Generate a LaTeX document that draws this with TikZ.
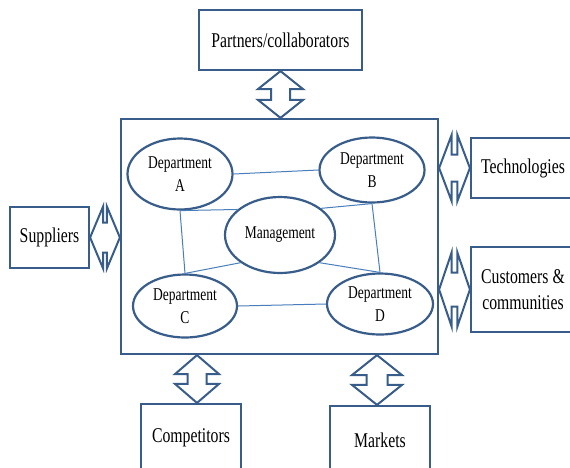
\documentclass[tikz,border=0pt]{standalone}
\usepackage{fontspec}
\setmainfont{Liberation Serif}[FakeStretch=0.75]
\usetikzlibrary{calc,shapes.geometric}

\definecolor{boxblue}{HTML}{385D8A}
\definecolor{linkblue}{HTML}{4A7EBB}

% block double arrow between two points: #3 head length, #4 head half width, #5 shaft half width
\newcommand{\dblarrow}[5]{%
  \draw[blockarrow] let \p1 = (#1), \p2 = (#2),
      \n1 = {veclen(\x2-\x1,\y2-\y1)}, \n2 = {atan2(\y2-\y1,\x2-\x1)} in
    [shift={(\p1)}, rotate=\n2]
    (0pt,0pt) -- (#3pt,#4pt) -- (#3pt,#5pt) -- ({\n1-#3pt},#5pt) -- ({\n1-#3pt},#4pt)
    -- (\n1,0pt) -- ({\n1-#3pt},-#4pt) -- ({\n1-#3pt},-#5pt) -- (#3pt,-#5pt) -- (#3pt,-#4pt) -- cycle;}

\begin{document}
\begin{tikzpicture}[x=1pt, y=-1pt,
    box/.style={draw=boxblue, line width=2.2pt, fill=white, inner sep=0pt,
      align=center, font=\fontsize{21}{26}\selectfont},
    dept/.style={ellipse, draw=boxblue, line width=2.2pt, inner sep=0pt,
      align=center, font=\fontsize{18}{23}\selectfont},
    link/.style={draw=linkblue, line width=1pt},
    blockarrow/.style={draw=boxblue, line width=2pt, fill=white, line join=miter}]

    \useasboundingbox (0,0) rectangle (570,467);

    % the organisation
    \node[box, minimum width=317, minimum height=235] (org) at (279.5, 236.5) {};

    \node[dept, minimum width=105, minimum height=71] (deptA) at (180, 174) {Department\\A};
    \node[dept, minimum width=105, minimum height=65] (deptB) at (372, 170) {Department\\B};
    \node[dept, minimum width=110, minimum height=76] (mgmt) at (280, 235) {Management};
    \node[dept, minimum width=104, minimum height=63] (deptC) at (185, 306) {Department\\C};
    \node[dept, minimum width=106, minimum height=61] (deptD) at (380, 304) {Department\\D};

    \draw[link] (deptA.east) -- (deptB.west);   % A - B
    \draw[link] (deptA.south) -- (deptC.north); % A - C
    \draw[link] (deptB.south) -- (deptD.north); % B - D
    \draw[link] (deptC.east) -- (deptD.west);   % C - D
    \draw[link] (deptA.south) -- (mgmt.149);
    \draw[link] (deptB.south) -- (mgmt.33);
    \draw[link] (deptC.north) -- (mgmt.215);
    \draw[link] (deptD.north) -- (mgmt.325);

    % surroundings
    \node[box, minimum width=163, minimum height=60] (partners) at (280.5, 40) {Partners/collaborators};
    \node[box, minimum width=79, minimum height=61] (suppliers) at (49.5, 237.5) {Suppliers};
    \node[box, minimum width=104, minimum height=60] (technologies) at (523, 168) {Technologies};
    \node[box, minimum width=104, minimum height=85] (customers) at (523, 289.5) {Customers \&\\communities};
    \node[box, minimum width=100, minimum height=68] (competitors) at (191, 438) {Competitors};
    \node[box, minimum width=100, minimum height=68] (markets) at (380, 440) {Markets};

    \dblarrow{partners.south}{partners.south |- org.north}{18}{22.5}{9.5}
    \dblarrow{suppliers.east}{suppliers.east -| org.west}{13}{31}{15}
    \dblarrow{technologies.west -| org.east}{technologies.west}{12.5}{33}{13.5}
    \dblarrow{customers.west -| org.east}{customers.west}{12.5}{37}{17}
    \dblarrow{[xshift=6pt]competitors.north |- org.south}{[xshift=6pt]competitors.north}{19}{22}{9.5}
    \dblarrow{[xshift=-3pt]markets.north |- org.south}{[xshift=-3pt]markets.north}{20}{25}{10.5}
\end{tikzpicture}
\end{document}
